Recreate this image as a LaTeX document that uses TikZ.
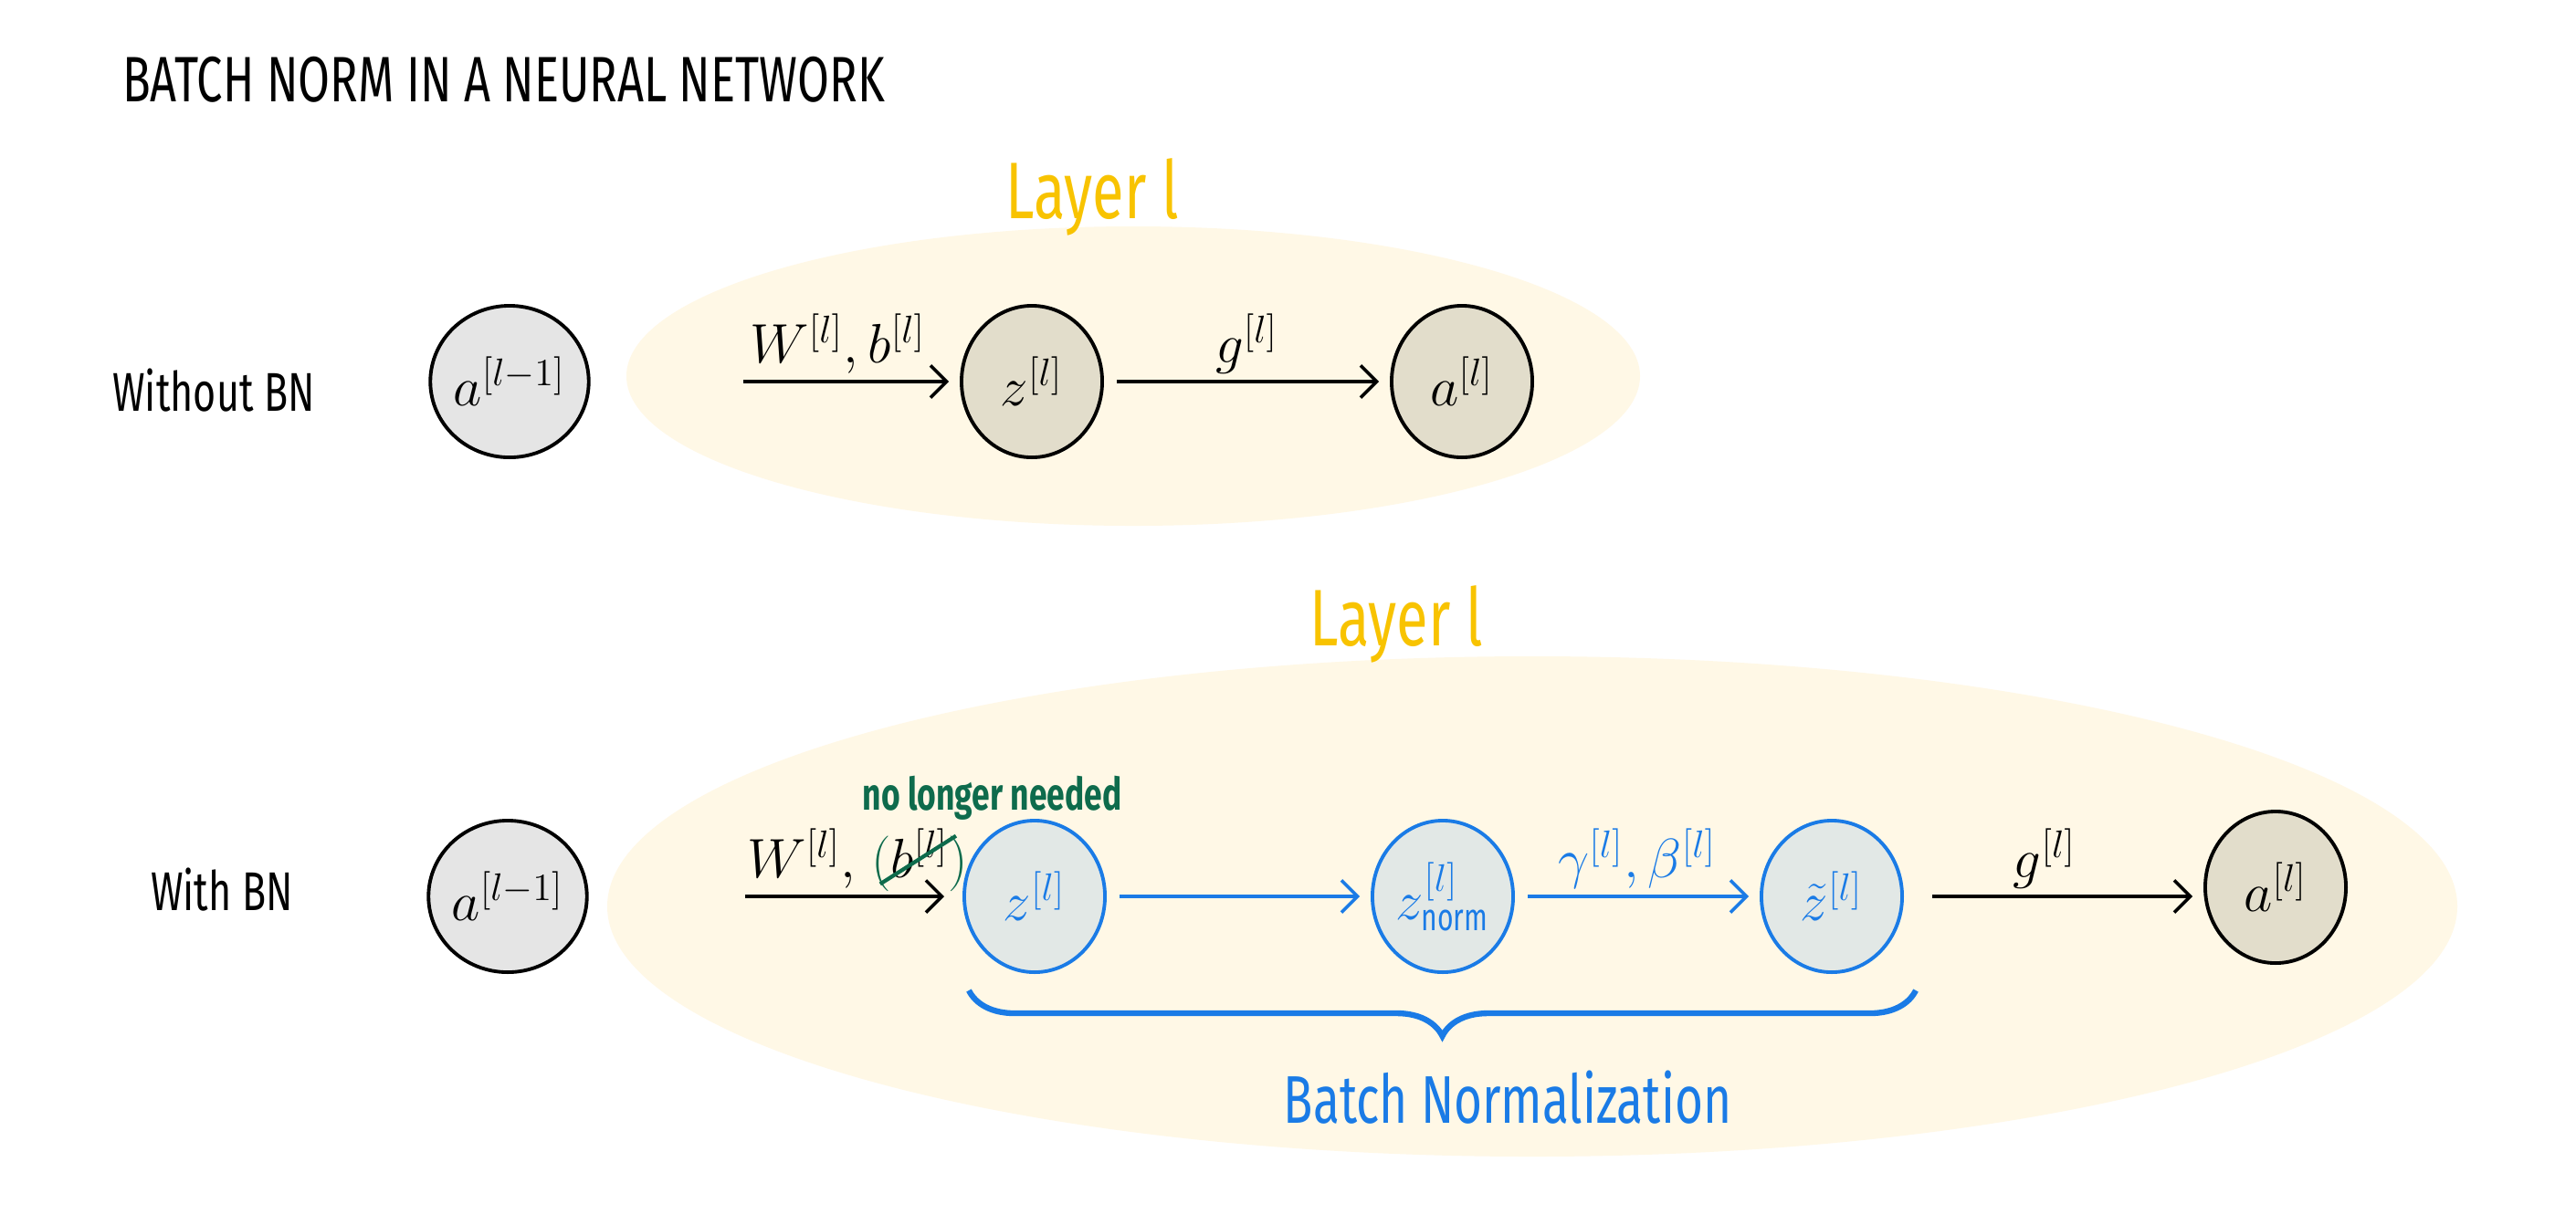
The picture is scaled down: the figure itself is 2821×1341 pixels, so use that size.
\documentclass[tikz,border=0pt]{standalone}
\usepackage{amsmath}
\usepackage{fontspec}
\setmainfont[FakeStretch=0.72]{Fira Sans}
\usetikzlibrary{arrows.meta,positioning,shapes.geometric,decorations.pathreplacing}

\definecolor{layerfill}{HTML}{FFF8E6}
\definecolor{layertext}{HTML}{F8C300}
\definecolor{prevfill}{HTML}{E5E5E5}
\definecolor{unitfill}{HTML}{E2DDCB}
\definecolor{bnblue}{HTML}{1A7BE6}
\definecolor{bnfill}{HTML}{E2E8E6}
\definecolor{nlgreen}{HTML}{0E6B4C}

\tikzset{
  hand/.style={font=\fontsize{#1}{#1}\selectfont},
  unit/.style={ellipse, draw=black, line width=1.1pt, minimum width=1.54cm,
    minimum height=1.66cm, inner sep=0pt, font=\fontsize{17}{20}\selectfont},
  prevunit/.style={unit, fill=prevfill},
  outunit/.style={unit, fill=unitfill},
  bnunit/.style={unit, draw=bnblue, fill=bnfill, text=bnblue},
  flow/.style={-{Straight Barb[length=5pt,width=10pt]}, line width=1pt,
    shorten <=0.14cm, shorten >=0.12cm},
  lab/.style={font=\fontsize{17}{20}\selectfont, inner sep=2pt},
}

\begin{document}
\begin{tikzpicture}[x=0.01cm, y=-0.01cm]
  % Canvas
  \fill[white] (0,0) rectangle (2821,1341);
  \useasboundingbox (0,0) rectangle (2821,1341);
  % Title
  \node[hand=20, anchor=west] (title) at (122,87) {BATCH NORM IN A NEURAL NETWORK};
  % Layer backgrounds
  \fill[layerfill] (1241,412) ellipse [x radius=555, y radius=164];
  \fill[layerfill] (1678,993) ellipse [x radius=1013, y radius=274];
  \node[hand=25, text=layertext] (laytop) at (1196,216) {Layer l};
  \node[hand=25, text=layertext] (laybot) at (1529,684) {Layer l};

  % Without BN
  \node[hand=17] (rowtop) at (234,428) {Without BN};
  \node[prevunit] (am1top) at (558,418) {$a^{[l-1]}$};
  \node[outunit] (ztop) at (1130,418) {$z^{[l]}$};
  \node[outunit] (atop) at (1601,418) {$a^{[l]}$};
  \draw[flow, shorten <=1.67cm] (am1top) -- (ztop)
    node[lab, pos=0.67, above] (wbtop) {$W^{[l]},b^{[l]}$};
  \draw[flow] (ztop) -- (atop)
    node[lab, midway, above] (gtop) {$g^{[l]}$};

  % With BN
  \node[hand=17] (rowbot) at (243,975) {With BN};
  \node[prevunit] (am1bot) at (556,982) {$a^{[l-1]}$};
  \node[bnunit] (zbot) at (1133,982) {$z^{[l]}$};
  \node[bnunit] (znbot) at (1580,982) {$z^{[l]}_{\text{norm}}$};
  \node[bnunit] (ztbot) at (2006,982) {$\tilde{z}^{[l]}$};
  \node[outunit] (abot) at (2492,972) {$a^{[l]}$};
  \draw[flow, shorten <=1.71cm, shorten >=0.2cm] (am1bot) -- (zbot)
    node[lab, pos=0.57, above] (wbot) {$W^{[l]},$};
  \node[lab, right=0pt of wbot.base east, anchor=base west] (bbot)
    {${\color{nlgreen}(}b^{[l]}{\color{nlgreen})}$};
  \draw[nlgreen, line width=1.2pt] ([xshift=5pt, yshift=-2pt]bbot.base west)
    -- ([xshift=-6pt, yshift=13pt]bbot.base east);
  \node[hand=14, text=nlgreen, anchor=south west] (nolonger)
    at ([xshift=-4pt, yshift=-3pt]bbot.north west) {\bfseries no longer needed};
  \draw[flow, color=bnblue] (zbot) -- (znbot);
  \draw[flow, color=bnblue] (znbot) -- (ztbot)
    node[lab, midway, above, text=bnblue] (gbbot) {$\gamma^{[l]},\beta^{[l]}$};
  \draw[flow, shorten <=0.31cm] (ztbot) -- (abot.west |- ztbot)
    node[lab, pos=0.47, above] (gbot) {$g^{[l]}$};

  % Batch norm brace
  \coordinate (bnl) at (1061,1085);
  \coordinate (bnr) at (2098,1085);
  \draw[bnblue, line width=1.8pt, decorate,
    decoration={brace, mirror, amplitude=0.5cm}] (bnl) -- (bnr);
  \node[hand=21, text=bnblue] (bnlab) at (1651,1202) {Batch Normalization};
\end{tikzpicture}
\end{document}
